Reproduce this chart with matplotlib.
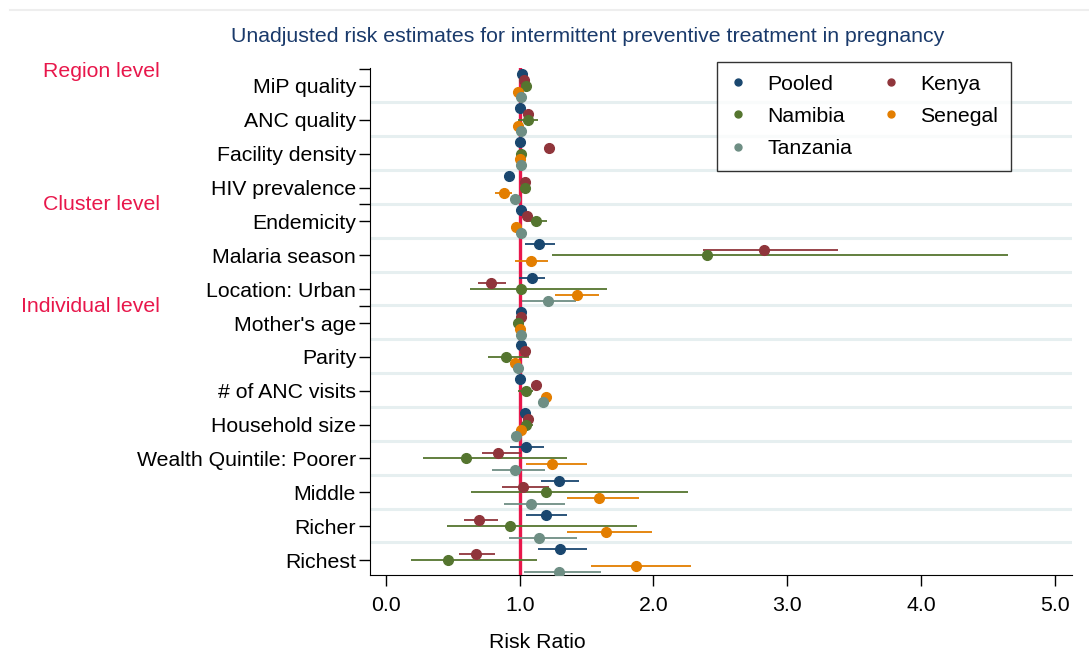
import numpy as np
import matplotlib
matplotlib.use("Agg")
import matplotlib.pyplot as plt
from matplotlib.lines import Line2D

plt.rcParams['font.family'] = ['Liberation Sans', 'DejaVu Sans']

variables = ["MiP quality", "ANC quality", "Facility density", "HIV prevalence",
             "Endemicity", "Malaria season", "Location: Urban", "Mother's age",
             "Parity", "# of ANC visits", "Household size",
             "Wealth Quintile: Poorer", "Middle", "Richer", "Richest"]

series = ["Pooled", "Kenya", "Namibia", "Senegal", "Tanzania"]
colors = {"Pooled": "#1a476f", "Kenya": "#90353b", "Namibia": "#55752f",
          "Senegal": "#e37e00", "Tanzania": "#6e8e84"}

nan = np.nan
pooled_rr = [1.02, 1.00, 1.00, 0.92, 1.01, 1.145, 1.09, 1.01, 1.01, 1.00, 1.04, 1.05, 1.29, 1.195, 1.30]
pooled_lo = [1.00, 0.98, 0.98, 0.90, 0.99, 1.04, 0.995, 1.00, 1.00, 0.99, 1.02, 0.93, 1.16, 1.05, 1.135]
pooled_hi = [1.04, 1.02, 1.02, 0.94, 1.03, 1.26, 1.19, 1.02, 1.02, 1.01, 1.06, 1.18, 1.44, 1.35, 1.50]

kenya_rr = [1.03, 1.06, 1.22, 1.04, 1.055, 2.83, 0.785, 1.01, 1.04, 1.12, 1.06, 0.84, 1.025, 0.695, 0.67]
kenya_lo = [1.01, 1.04, 1.20, 1.02, 1.035, 2.37, 0.69, 1.00, 1.02, 1.10, 1.04, 0.72, 0.87, 0.58, 0.545]
kenya_hi = [1.05, 1.08, 1.24, 1.06, 1.075, 3.38, 0.90, 1.02, 1.06, 1.14, 1.08, 1.01, 1.22, 0.84, 0.815]

namibia_rr = [1.05, 1.06, 1.01, 1.04, 1.12, 2.40, 1.01, 0.99, 0.90, 1.05, 1.05, 0.60, 1.195, 0.93, 0.46]
namibia_lo = [1.03, 0.99, 0.99, 1.02, 1.05, 1.24, 0.63, 0.97, 0.76, 0.99, 1.02, 0.28, 0.635, 0.455, 0.19]
namibia_hi = [1.07, 1.14, 1.03, 1.06, 1.20, 4.65, 1.65, 1.01, 1.07, 1.10, 1.10, 1.35, 2.26, 1.88, 1.13]

senegal_rr = [0.99, 0.99, 1.00, 0.88, 0.97, 1.085, 1.43, 1.00, 0.965, 1.195, 1.01, 1.24, 1.59, 1.645, 1.87]
senegal_lo = [0.97, 0.97, 0.98, 0.815, 0.95, 0.965, 1.26, 0.99, 0.95, 1.17, 0.99, 1.05, 1.35, 1.35, 1.53]
senegal_hi = [1.01, 1.01, 1.02, 0.94, 0.99, 1.21, 1.59, 1.01, 0.98, 1.22, 1.03, 1.50, 1.89, 1.99, 2.28]

tanzania_rr = [1.01, 1.01, 1.01, 0.965, 1.01, nan, 1.21, 1.01, 0.985, 1.175, 0.97, 0.965, 1.085, 1.145, 1.29]
tanzania_lo = [1.00, 1.00, 1.00, 0.955, 1.00, nan, 1.02, 1.00, 0.975, 1.16, 0.96, 0.79, 0.88, 0.92, 1.03]
tanzania_hi = [1.02, 1.02, 1.02, 0.975, 1.02, nan, 1.42, 1.02, 0.995, 1.19, 0.98, 1.19, 1.34, 1.43, 1.61]

data = {
    "Pooled": (pooled_rr, pooled_lo, pooled_hi),
    "Kenya": (kenya_rr, kenya_lo, kenya_hi),
    "Namibia": (namibia_rr, namibia_lo, namibia_hi),
    "Senegal": (senegal_rr, senegal_lo, senegal_hi),
    "Tanzania": (tanzania_rr, tanzania_lo, tanzania_hi),
}

levels = ["Region level", "Cluster level", "Individual level"]
level_pos = [-0.42, 3.5, 6.5]

FS = 15.3
W, H = 1089, 659
fig = plt.figure(figsize=(W / 100, H / 100), dpi=100)
ax = fig.add_axes([370 / W, 1 - 575 / H, (1072 - 370) / W, (575 - 68) / H])

n = len(variables)
rows = np.arange(n)
offsets = np.array([-0.34, -0.17, 0.0, 0.17, 0.34])

# separator lines
for r in rows:
    ax.axhline(r + 0.48, color="#e6eff0", lw=2.2, zorder=0)

ax.axvline(1.0, color="#e8174b", lw=2.4, zorder=3)

for k, s in enumerate(series):
    rr, lo, hi = (np.array(a, dtype=float) for a in data[s])
    y = rows + offsets[k]
    ax.hlines(y, lo, hi, color=colors[s], lw=1.3, zorder=4)
    ax.plot(rr, y, 'o', color=colors[s], ms=7, zorder=5, mec=colors[s])

ax.set_xlim(-0.12, 5.13)
ax.set_ylim(14.44, -0.53)
ax.set_xticks([0, 1, 2, 3, 4, 5])
ax.set_xticklabels(["0.0", "1.0", "2.0", "3.0", "4.0", "5.0"], fontsize=FS)
ax.set_yticks(rows)
ax.set_yticklabels(variables, fontsize=FS)
ax.set_yticks([-0.5, 3.5, 6.5], minor=True)
ax.tick_params(axis='y', which='both', length=8, width=1, pad=2)
ax.tick_params(axis='x', length=8, width=1, pad=7)
for sp in ["top", "right"]:
    ax.spines[sp].set_visible(False)

fig.text(537 / W, 1 - 642 / H, "Risk Ratio", fontsize=FS, ha="center", va="center")
fig.text(588 / W, 1 - 37 / H,
         "Unadjusted risk estimates for intermittent preventive treatment in pregnancy",
         fontsize=FS, color="#1a3a6b", ha="center", va="center")

for lab, p in zip(levels, level_pos):
    yfig = ax.transData.transform((0, p))[1] / H
    fig.text(160 / W, yfig, lab, color="#e8174b", fontsize=FS, ha="right", va="center")

handles = [Line2D([], [], marker='o', ls='', color=colors[s], ms=5) for s in series]
order = [0, 2, 4, 1, 3]
leg = fig.legend([handles[i] for i in order], [series[i] for i in order], ncol=2,
                 loc="upper right", bbox_to_anchor=(1011 / W, 1 - 62 / H),
                 bbox_transform=fig.transFigure, borderaxespad=0,
                 fontsize=FS, frameon=True, fancybox=False, edgecolor="black",
                 handletextpad=1.0, columnspacing=1.4, borderpad=0.6, labelspacing=0.62,
                 handlelength=0.8)
leg.get_frame().set_linewidth(1.0)

fig.add_artist(Line2D([10 / W, 1], [1 - 10 / H, 1 - 10 / H], color="#eeeeee", lw=1.5))

fig.savefig("out.png", dpi=100)
